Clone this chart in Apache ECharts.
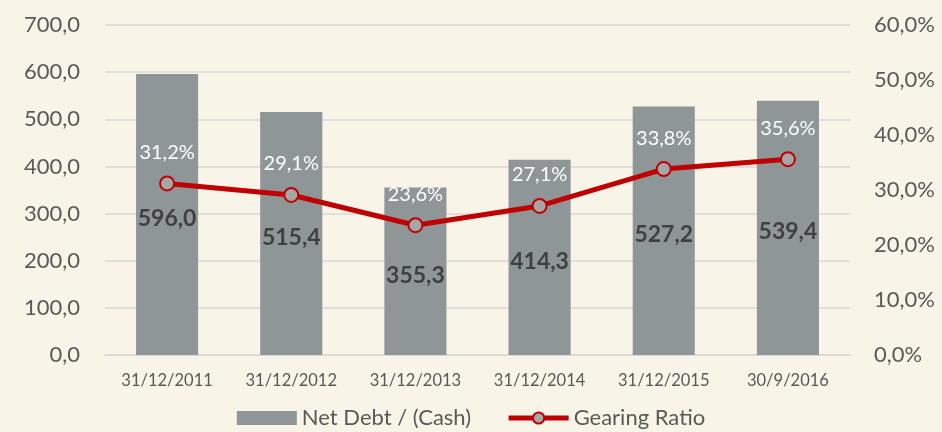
<!DOCTYPE html>
<html>
<head>
<meta charset="utf-8">
<script src="https://cdn.jsdelivr.net/npm/echarts@6/dist/echarts.min.js"></script>
<style>
  html, body { margin: 0; padding: 0; background: #F8F4E8; }
  #chart { width: 942px; height: 432px; }
</style>
</head>
<body>
<div id="chart"></div>
<script>
const categories = ['31/12/2011', '31/12/2012', '31/12/2013', '31/12/2014', '31/12/2015', '30/9/2016'];
const netDebt = [596.0, 515.4, 355.3, 414.3, 527.2, 539.4];
const gearingRatio = [31.2, 29.1, 23.6, 27.1, 33.8, 35.6];

const FONT = 'Lato';
const fmt1 = v => v.toFixed(1).replace('.', ',');

const chart = echarts.init(document.getElementById('chart'), null, { renderer: 'canvas' });
chart.setOption({
  backgroundColor: '#F8F4E8',
  animation: false,
  textStyle: { fontFamily: FONT },
  grid: { left: 105, right: 92, top: 25, bottom: 77 },
  legend: {
    bottom: -2,
    left: 'center',
    itemGap: 35,
    itemWidth: 60,
    itemHeight: 14,
    textStyle: { fontFamily: FONT, fontSize: 22, color: '#595959' },
    data: [
      { name: 'Net Debt / (Cash)', icon: 'rect' },
      { name: 'Gearing Ratio', lineStyle: { width: 5 }, itemStyle: { borderWidth: 2 } }
    ]
  },
  xAxis: {
    type: 'category',
    data: categories,
    axisLine: { lineStyle: { color: '#D9D9D9', width: 1.5 } },
    axisTick: { show: false },
    axisLabel: { fontFamily: FONT, fontSize: 16.5, color: '#595959', margin: 17 }
  },
  yAxis: [
    {
      type: 'value', min: 0, max: 700, interval: 100,
      axisLine: { show: false }, axisTick: { show: false },
      splitLine: { lineStyle: { color: '#D9D9D9', width: 1.5 } },
      axisLabel: { fontFamily: FONT, fontSize: 22, color: '#595959', margin: 25, formatter: v => fmt1(v) }
    },
    {
      type: 'value', min: 0, max: 60, interval: 10,
      axisLine: { show: false }, axisTick: { show: false },
      splitLine: { show: false },
      axisLabel: { fontFamily: FONT, fontSize: 22, color: '#595959', margin: 24, formatter: v => fmt1(v) + '%' }
    }
  ],
  series: [
    {
      name: 'Net Debt / (Cash)',
      type: 'bar',
      yAxisIndex: 0,
      data: netDebt,
      barWidth: '50%',
      itemStyle: { color: '#8E9698' },
      label: {
        show: true,
        position: 'inside',
        offset: [0, 4],
        fontFamily: FONT,
        fontSize: 23,
        fontWeight: 'bold',
        color: '#404040',
        formatter: p => fmt1(p.value)
      },
      z: 1
    },
    {
      name: 'Gearing Ratio',
      type: 'line',
      yAxisIndex: 1,
      data: gearingRatio,
      symbol: 'circle',
      symbolSize: 14,
      lineStyle: { color: '#C00000', width: 5 },
      itemStyle: { color: '#A6A6A6', borderColor: '#C00000', borderWidth: 2 },
      label: {
        show: true,
        position: 'top',
        distance: 13,
        fontFamily: FONT,
        fontSize: 20,
        color: '#FFFFFF',
        formatter: p => fmt1(p.value) + '%'
      },
      z: 3
    }
  ]
});
</script>
</body>
</html>
